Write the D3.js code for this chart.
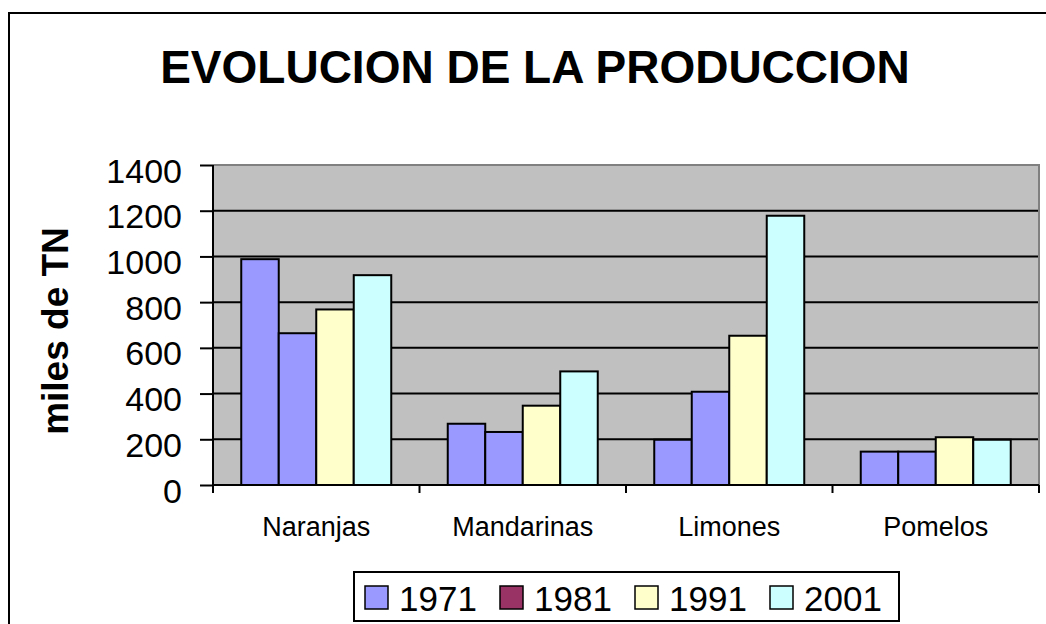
<!DOCTYPE html>
<html>
<head>
    <meta charset="utf-8">
    <script type="text/javascript" src="https://d3js.org/d3.v7.min.js"></script>
    <style>
body { margin: 0; background: #fff; }
svg text { font-family: "Liberation Sans", Arial, sans-serif; fill: #000; }
.axis path, .axis line { stroke: #000; stroke-width: 2px; }
.axis .domain { display: none; }
    </style>
</head>
<body>
<svg width="1046" height="624"></svg>
<script type="text/javascript">

// data (miles de TN)
var categories = ["Naranjas", "Mandarinas", "Limones", "Pomelos"];
var years = ["1971", "1981", "1991", "2001"];
var v1971 = [988, 268, 198, 146];
var v1981 = [664, 232, 408, 146];
var v1991 = [768, 347, 653, 209];
var v2001 = [918, 497, 1178, 198];
var yTicks = [0, 200, 400, 600, 800, 1000, 1200, 1400];

// the 1981 bars are drawn in the same blue as 1971, only the legend key differs
var barColors = ["#9999FF", "#9999FF", "#FFFFCC", "#CCFFFF"];
var keyColors = ["#9999FF", "#993366", "#FFFFCC", "#CCFFFF"];

var seriesValues = [v1971, v1981, v1991, v2001];

var svg = d3.select("svg");

// outer chart frame (runs off the right and bottom of the picture)
svg.append("rect")
    .attr("x", 9).attr("y", 13)
    .attr("width", 1100).attr("height", 700)
    .attr("fill", "#fff")
    .attr("stroke", "#000").attr("stroke-width", 2);

var plot = {left: 213, right: 1039, top: 165, bottom: 485};

var x0 = d3.scaleBand()
    .domain(categories)
    .range([plot.left, plot.right])
    .paddingInner(0.2736)
    .paddingOuter(0.1368);

var x1 = d3.scaleBand()
    .domain(years)
    .range([0, x0.bandwidth()]);

var y = d3.scaleLinear()
    .domain([0, 1400])
    .range([plot.bottom, plot.top]);

// plot background
svg.append("rect")
    .attr("x", plot.left).attr("y", plot.top)
    .attr("width", plot.right - plot.left).attr("height", plot.bottom - plot.top)
    .attr("fill", "#C0C0C0");

// gridlines
svg.append("g").selectAll("line")
    .data(yTicks.filter(function(d) { return d > 0 && d < 1400; }))
    .enter().append("line")
    .attr("x1", plot.left).attr("x2", plot.right)
    .attr("y1", function(d) { return y(d); })
    .attr("y2", function(d) { return y(d); })
    .attr("stroke", "#000").attr("stroke-width", 2);

// plot border top/right in grey
svg.append("path")
    .attr("d", "M" + plot.left + "," + y(1400) + "H" + plot.right + "V" + plot.bottom)
    .attr("fill", "none")
    .attr("stroke", "#808080").attr("stroke-width", 2);

// bars
var groups = svg.append("g").selectAll("g")
    .data(categories)
    .enter().append("g")
    .attr("transform", function(d) { return "translate(" + x0(d) + ",0)"; });

groups.selectAll("rect")
    .data(function(c, ci) {
        return years.map(function(yr, si) { return {year: yr, si: si, value: seriesValues[si][ci]}; });
    })
    .enter().append("rect")
    .attr("x", function(d) { return x1(d.year); })
    .attr("y", function(d) { return y(d.value); })
    .attr("width", x1.bandwidth())
    .attr("height", function(d) { return y(0) - y(d.value); })
    .attr("fill", function(d) { return barColors[d.si]; })
    .attr("stroke", "#000").attr("stroke-width", 2);

// y axis
var yAxis = svg.append("g")
    .attr("class", "axis")
    .attr("transform", "translate(" + plot.left + ",0)")
    .call(d3.axisLeft(y).tickValues(yTicks).tickFormat(d3.format("d")).tickSize(13).tickPadding(18));
yAxis.selectAll("text")
    .style("font-size", "34px")
    .attr("dy", "0.5em");
yAxis.append("line")
    .attr("x1", 0).attr("x2", 0)
    .attr("y1", plot.top).attr("y2", plot.bottom + 8)
    .attr("stroke", "#000").attr("stroke-width", 2);

// x axis: labels at the band centres, ticks between the categories
var xAxis = svg.append("g")
    .attr("class", "axis")
    .attr("transform", "translate(0," + plot.bottom + ")")
    .call(d3.axisBottom(x0).tickSize(0).tickPadding(32));
xAxis.selectAll("text")
    .style("font-size", "27px");
xAxis.append("line")
    .attr("x1", plot.left).attr("x2", plot.right)
    .attr("y1", 0).attr("y2", 0)
    .attr("stroke", "#000").attr("stroke-width", 2);

var step = x0.step();
var bounds = categories.map(function(c) { return x0(c) - step * x0.paddingInner() / 2; });
bounds.push(plot.right);
xAxis.selectAll(".sep")
    .data(bounds)
    .enter().append("line")
    .attr("class", "sep")
    .attr("x1", function(d) { return d; }).attr("x2", function(d) { return d; })
    .attr("y1", 0).attr("y2", 8)
    .attr("stroke", "#000").attr("stroke-width", 2);

// title
svg.append("text")
    .attr("x", 535).attr("y", 83)
    .attr("text-anchor", "middle")
    .style("font-size", "46px").style("font-weight", "bold")
    .text("EVOLUCION DE LA PRODUCCION");

// y axis title
svg.append("text")
    .attr("transform", "translate(68," + 331 + ") rotate(-90)")
    .attr("text-anchor", "middle")
    .style("font-size", "37px").style("font-weight", "bold")
    .text("miles de TN");

// legend
var legend = svg.append("g").attr("transform", "translate(354,572)");
legend.append("rect")
    .attr("width", 545).attr("height", 49)
    .attr("fill", "#fff")
    .attr("stroke", "#000").attr("stroke-width", 2);

var key = legend.selectAll(".key")
    .data(years)
    .enter().append("g")
    .attr("class", "key")
    .attr("transform", function(d, i) { return "translate(" + (11 + i * 135) + ",0)"; });

key.append("rect")
    .attr("x", 0).attr("y", 14)
    .attr("width", 23).attr("height", 23)
    .attr("fill", function(d, i) { return keyColors[i]; })
    .attr("stroke", "#000").attr("stroke-width", 1.5);

key.append("text")
    .attr("x", 34).attr("y", 39)
    .style("font-size", "35px")
    .text(function(d) { return d; });

</script>
</body>
</html>
